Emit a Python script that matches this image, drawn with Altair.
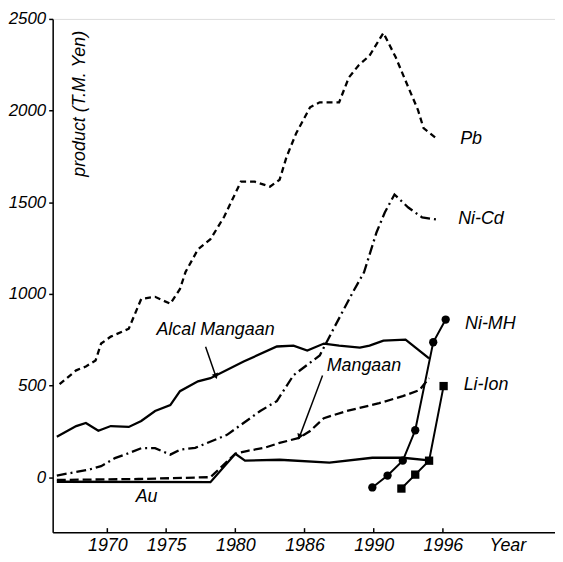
import altair as alt
import pandas as pd

FONT = "Liberation Sans"

# ---- data ----
pb_year = [1967.3, 1968.5, 1969.2, 1969.9, 1970.3, 1971.0, 1972.3, 1973.2, 1974.2, 1975.3,
           1976.0, 1976.4, 1977.3, 1978.2, 1979.2, 1980.4, 1981.4, 1982.5, 1983.2, 1983.7,
           1984.4, 1985.4, 1986.1, 1987.5, 1988.2, 1988.9, 1989.7, 1990.7, 1991.6, 1992.5,
           1993.2, 1993.6, 1994.5]
pb_val = [507, 583, 604, 637, 729, 767, 810, 973, 984, 946,
          1027, 1119, 1243, 1298, 1422, 1612, 1612, 1585, 1623, 1747,
          1877, 2018, 2045, 2045, 2180, 2246, 2300, 2424, 2289, 2127,
          2003, 1904, 1850]

nicd_year = [1967.1, 1969.4, 1970.3, 1971.3, 1972.3, 1973.2, 1974.2, 1975.3, 1976.0, 1977.1,
             1979.4, 1981.8, 1983.0, 1984.2, 1986.1, 1987.1, 1988.5, 1989.3, 1990.2, 1990.8,
             1991.5, 1992.5, 1993.5, 1994.5]
nicd_val = [9, 41, 60, 104, 131, 158, 158, 123, 150, 160,
            231, 361, 415, 556, 664, 810, 1010, 1118, 1335, 1444,
            1542, 1471, 1417, 1406]

alcal_year = [1967.1, 1968.5, 1969.2, 1970.1, 1971.0, 1972.3, 1973.2, 1974.2, 1975.3, 1976.0,
              1977.3, 1978.2, 1980.6, 1983.0, 1984.2, 1985.2, 1986.4, 1987.5, 1989.0, 1989.7,
              1990.7, 1992.3, 1994.0]
alcal_val = [220, 279, 296, 253, 279, 274, 307, 361, 393, 469,
             523, 540, 631, 713, 718, 691, 729, 718, 707, 718,
             745, 750, 648]

mang_year = [1967.1, 1973.0, 1978.2, 1980.0, 1980.9, 1982.1, 1983.2, 1984.6, 1985.4, 1986.4,
             1988.0, 1990.4, 1992.1, 1993.3, 1994.0]
mang_val = [-15, -10, 0, 128, 144, 160, 187, 214, 252, 322,
            360, 404, 442, 475, 540]

au_year = [1967.1, 1978.2, 1980.0, 1980.7, 1983.2, 1986.8, 1989.9, 1992.1, 1994.0]
au_val = [-25, -27, 128, 90, 95, 79, 106, 106, 92]

nimh_year = [1989.9, 1991.0, 1992.1, 1993.0, 1994.3, 1995.2]
nimh_val = [-56, 9, 90, 256, 736, 860]

liion_year = [1992.0, 1993.0, 1994.0, 1995.05]
liion_val = [-62, 14, 90, 497]

# labels
lab_text = ["Pb", "Ni-Cd", "Ni-MH", "Li-Ion", "Alcal Mangaan", "Mangaan", "Au"]
lab_year = [1996.25, 1996.1, 1996.6, 1996.5, 1974.3, 1986.6, 1972.8]
lab_val = [1845, 1406, 838, 501, 805, 605, -110]

# arrows
arr_x0 = [1977.85, 1986.3]
arr_y0 = [712, 555]
arr_x1 = [1978.57, 1984.66]
arr_y1 = [555, 225]
arr_angle = [161, 201]

# axes
x_ticks = [1970.75, 1975, 1980, 1985, 1990, 1995]
x_tick_labels = ["1970", "1975", "1980", "1986", "1990", "1996"]
y_ticks = [0, 500, 1000, 1500, 2000, 2500]
x_domain = [1966.8, 2003.1]
y_domain = [-300, 2500]

ytitle_text = ["product (T.M. Yen)"]
ytitle_year = [1968.8]
ytitle_val = [2435]

# ---- chart ----
label_expr = " : ".join(f"datum.value == {v} ? '{l}'" for v, l in zip(x_ticks, x_tick_labels)) + " : ''"

x_axis = alt.Axis(values=x_ticks, labelExpr=label_expr, ticks=False, grid=False,
                  title="Year", titleX=458, titleY=13, titleAlign="center",
                  titleBaseline="middle", titleFont=FONT, titleFontSize=18,
                  titleFontStyle="italic", titleFontWeight="normal", titleColor="black",
                  labelFont=FONT, labelFontSize=18, labelFontStyle="italic",
                  labelColor="black", labelPadding=4, domainColor="black",
                  domainWidth=1.5, labelFlush=False)
y_axis = alt.Axis(values=y_ticks, format="d", grid=False, title=None, tickSize=4,
                  tickColor="black", tickWidth=1.5, labelFont=FONT, labelFontSize=17,
                  labelFontStyle="italic", labelColor="black", labelPadding=3,
                  domainColor="black", domainWidth=1.5)

xs = alt.Scale(domain=x_domain, nice=False, zero=False)
ys = alt.Scale(domain=y_domain, nice=False, zero=False)


def X(f="year"):
    return alt.X(f"{f}:Q", scale=xs, axis=x_axis)


def Y(f="value"):
    return alt.Y(f"{f}:Q", scale=ys, axis=y_axis)


def df(years, vals):
    return pd.DataFrame({"year": years, "value": vals, "o": list(range(len(years)))})


def line(years, vals, dash=None, width=2.3, point=None):
    kw = dict(color="black", strokeWidth=width)
    if dash:
        kw["strokeDash"] = dash
    if point is not None:
        kw["point"] = point
    return alt.Chart(df(years, vals)).mark_line(**kw).encode(x=X(), y=Y(), order="o:Q")


pb = line(pb_year, pb_val, dash=[6, 4])
nicd = line(nicd_year, nicd_val, dash=[10, 4, 2, 4])
alcal = line(alcal_year, alcal_val)
mang = line(mang_year, mang_val, dash=[9, 4])
au = line(au_year, au_val)
nimh = line(nimh_year, nimh_val, width=2,
            point=alt.OverlayMarkDef(shape="circle", size=70, filled=True, color="black"))
liion = line(liion_year, liion_val, width=2,
             point=alt.OverlayMarkDef(shape="square", size=70, filled=True, color="black"))

ticks_df = pd.DataFrame({"year": x_ticks, "y0": [y_domain[0]] * len(x_ticks),
                         "y1": [y_domain[0] + 22] * len(x_ticks)})
inner_ticks = alt.Chart(ticks_df).mark_rule(color="black", strokeWidth=1.5).encode(
    x=X(), y=Y("y0"), y2="y1:Q")

labels = alt.Chart(pd.DataFrame({"year": lab_year, "value": lab_val, "t": lab_text})).mark_text(
    font=FONT, fontSize=18, fontStyle="italic", align="left", baseline="middle", color="black"
).encode(x=X(), y=Y(), text="t:N")

ytitle = alt.Chart(pd.DataFrame({"year": ytitle_year, "value": ytitle_val, "t": ytitle_text})).mark_text(
    font=FONT, fontSize=18, fontStyle="italic", align="right", baseline="middle", angle=270,
    color="black"
).encode(x=X(), y=Y(), text="t:N")

arr_df = pd.DataFrame({"year": arr_x0, "value": arr_y0, "x1": arr_x1, "y1": arr_y1,
                       "ang": arr_angle})
shafts = alt.Chart(arr_df).mark_rule(color="black", strokeWidth=1.5).encode(
    x=X(), y=Y(), x2="x1:Q", y2="y1:Q")
heads = alt.Chart(arr_df).mark_point(shape="triangle", filled=True, color="black", size=45,
                                     opacity=1).encode(
    x=X("x1"), y=Y("y1"), angle=alt.Angle("ang:Q", scale=None))

chart = alt.layer(inner_ticks, pb, nicd, alcal, mang, au, nimh, liion, labels, ytitle,
                  shafts, heads).properties(
    width=506, height=517, padding={"left": 0, "top": 0, "right": 0, "bottom": 0}
).configure_view(stroke="black", strokeWidth=1.5).configure(background="white")

chart.save("out.html", embed_options={"renderer": "svg", "actions": False})
